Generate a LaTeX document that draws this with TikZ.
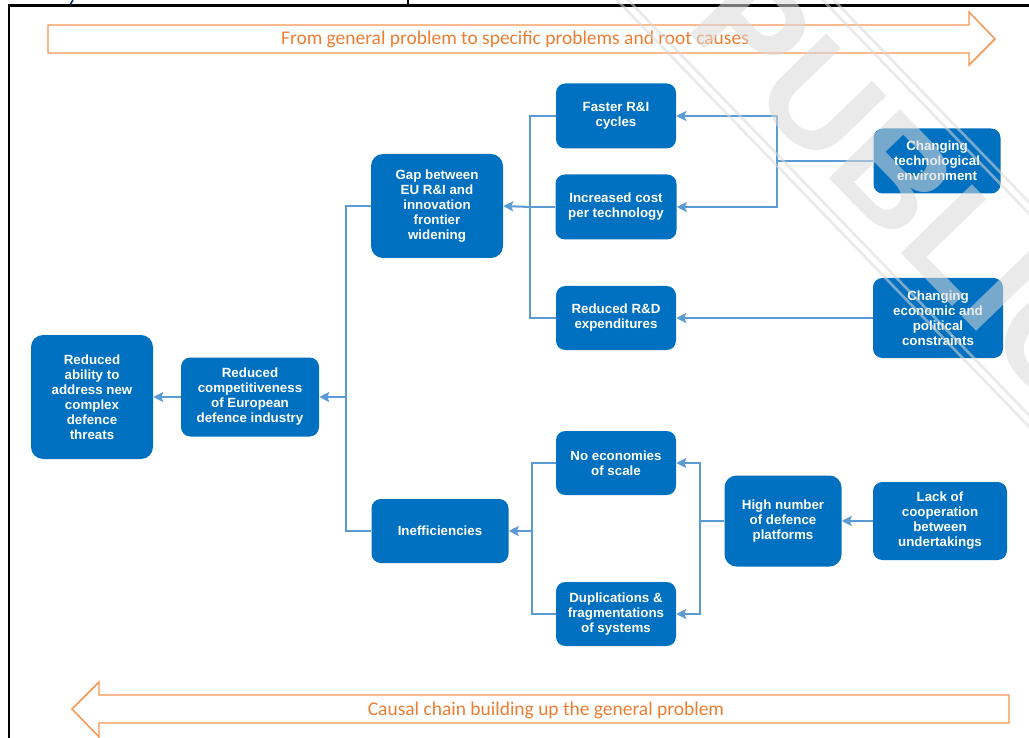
\documentclass[tikz,border=0pt]{standalone}
\usepackage{fontspec}
\setmainfont{Liberation Sans}
\newfontfamily\calfont{Carlito}
\usetikzlibrary{arrows.meta, calc}
\definecolor{boxblue}{RGB}{0,112,192}
\definecolor{linkblue}{RGB}{91,155,213}
\definecolor{arrline}{RGB}{246,150,80}
\definecolor{arrtext}{RGB}{237,125,49}
\definecolor{navy}{RGB}{20,40,110}
\tikzset{
  box/.style={rectangle, rounded corners=7pt, fill=boxblue, text=white, align=center, inner sep=2pt,
    font=\fontsize{10}{11.25}\selectfont\bfseries},
  sz/.style 2 args={minimum width=0.75*#1pt, minimum height=0.75*#2pt},
  wire/.style={linkblue, line width=1.5pt},
  arr/.style={wire, -{Stealth[length=7.5pt,width=7.5pt,inset=1.5pt]}},
  bigarrow/.style={arrline, line width=1.1pt},
  arrlabel/.style={text=arrtext, font=\calfont\fontsize{14.6}{16}\selectfont}
}

\begin{document}
\begin{tikzpicture}[x=0.75pt, y=-0.75pt]
  \useasboundingbox (0,0) rectangle (1029,738);

  % Frame
  \draw[line width=2.2pt] (9,738) -- (9,5.5) -- (1029,5.5);
  \draw[navy, line width=1.2pt] (70,5) -- (73,0);
  \draw[line width=1.2pt] (408,5) -- (408,0);

  % Direction arrows
  \draw[bigarrow] (48,25) -- (969,25) -- (969,12) -- (995,39) -- (969,65) -- (969,53) -- (48,53) -- cycle;
  \node[arrlabel] (toptext) at (515,39) {From general problem to specific problems and root causes};
  \draw[bigarrow] (1009,695) -- (99,695) -- (99,682) -- (72,709) -- (99,737) -- (99,723) -- (1009,723) -- cycle;
  \node[arrlabel] (bottext) at (546,710) {Causal chain building up the general problem};

  % Problem tree
  \node[box, sz={122}{124}, rounded corners=9pt] (threat) at (92,397) {Reduced\\ability to\\address new\\complex\\defence\\threats};
  \node[box, sz={138}{79}] (compet) at (250,397) {Reduced\\competitiveness\\of European\\defence industry};
  \node[box, sz={132}{104}, rounded corners=9pt] (gap) at (437,206) {Gap between\\EU R\&I and\\innovation\\frontier\\widening};
  \node[box, sz={137}{64}] (ineff) at (440,531) {Inefficiencies};
  \node[box, sz={120}{65}] (faster) at (616,116) {Faster R\&I\\cycles};
  \node[box, sz={121}{65}] (cost) at (616,207) {Increased cost\\per technology};
  \node[box, sz={120}{64}] (rd) at (616,318) {Reduced R\&D\\expenditures};
  \node[box, sz={127}{65}] (tech) at (937,161) {Changing\\technological\\environment};
  \node[box, sz={130}{80}] (econ) at (938,318) {Changing\\economic and\\political\\constraints};
  \node[box, sz={120}{64}] (scale) at (616,463) {No economies\\of scale};
  \node[box, sz={120}{64}] (dup) at (616,614) {Duplications \&\\fragmentations\\of systems};
  \node[box, sz={117}{91}, rounded corners=9pt] (high) at (783,521) {High number\\of defence\\platforms};
  \node[box, sz={134}{78}] (lack) at (940,521) {Lack of\\cooperation\\between\\undertakings};

  % Junctions
  \coordinate (j1) at (346,397);
  \coordinate (j2) at (530,207);
  \coordinate (j3) at (777,161);
  \coordinate (j4) at (532,531);
  \coordinate (j5) at (700,521);

  % Links
  \draw[arr] (compet.west) -- (threat.east);
  \draw[wire] (gap.west) -| (j1) |- (ineff.west);
  \draw[arr] (j1) -- (compet.east);
  \draw[wire] (faster.west) -| (j2) |- (rd.west);
  \draw[wire] (cost.west) -- (j2);
  \draw[arr] (j2) -- (gap.east);
  \draw[wire] (tech.west) -- (j3);
  \draw[arr] (j3) |- (faster.east);
  \draw[arr] (j3) |- (cost.east);
  \draw[arr] (econ.west) -- (rd.east);
  \draw[wire] (scale.west) -| (j4) |- (dup.west);
  \draw[arr] (j4) -- (ineff.east);
  \draw[wire] (high.west) -- (j5);
  \draw[arr] (j5) |- (scale.east);
  \draw[arr] (j5) |- (dup.east);
  \draw[arr] (lack.west) -- (high.east);

  % Watermark
  \begin{scope}
    \clip (0,0) rectangle (1029,738);
    \begin{scope}[shift={(905,186)}, rotate=-46, opacity=.55]
      \node[rotate=-46, text=gray!30, font=\fontsize{108}{108}\selectfont\bfseries] (stamp) at (0,0) {PUBLIC};
      \foreach \d in {-78,-70,70,78}
        \draw[gray!30, line width=2pt] (-700,\d) -- (700,\d);
    \end{scope}
  \end{scope}
\end{tikzpicture}
\end{document}
